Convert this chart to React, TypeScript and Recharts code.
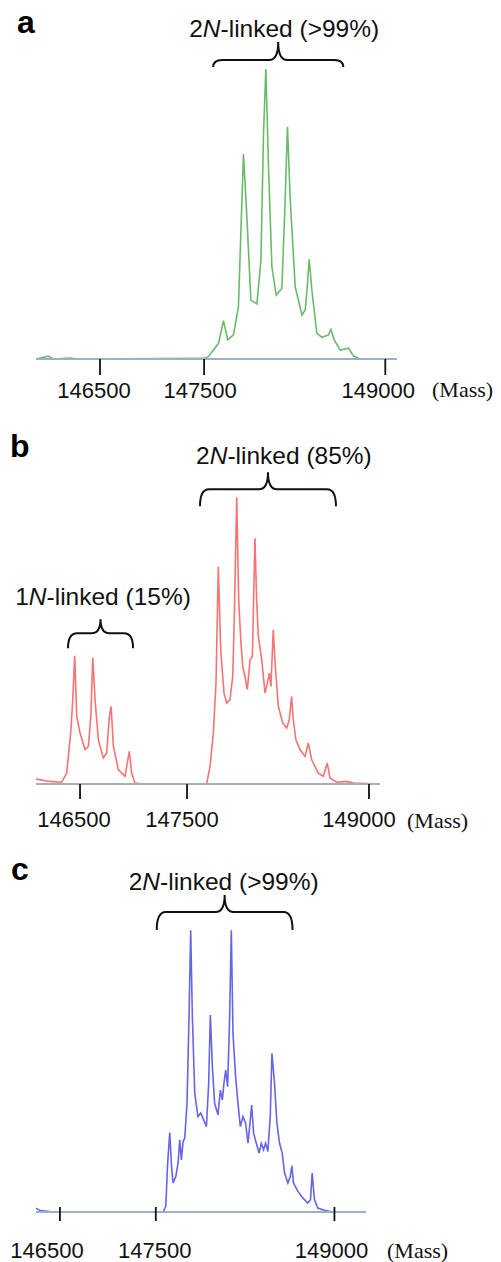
import { LineChart, Line, XAxis, YAxis, ReferenceLine, ReferenceDot } from 'recharts'

// ---- panel a: 2N-linked only ----
const MASS_A = [146108, 146210, 146251, 146390, 146445, 147494, 147536, 147577, 147619, 147660, 147696, 147743, 147784, 147804, 147826, 147854, 147887, 147937, 147970, 147992, 148011, 148033, 148061, 148097, 148144, 148171, 148190, 148213, 148254, 148310, 148337, 148356, 148370, 148392, 148433, 148475, 148530, 148550, 148577, 148627, 148696, 148737, 148793, 149097]
const INTENSITY_A = [0, 1.0, 0, 0.3, 0, 0.2, 0.8, 3.1, 5.4, 13.2, 6.6, 8.3, 18.0, 43.3, 70.7, 49, 20.3, 19, 34, 77.8, 100, 66.3, 31.8, 22, 24.4, 54.8, 80.1, 54.8, 24.9, 15.2, 16.9, 26.1, 34.4, 23.8, 8.9, 7.5, 8.3, 10.2, 6.6, 3.1, 3.7, 1.0, 0, 0]
const TICKS_A = [146638, 147500, 149000]

// ---- panel b: 1N + 2N ----
const MASS_B = [146255, 146371, 146467, 146508, 146541, 146558, 146574, 146591, 146618, 146659, 146687, 146707, 146723, 146742, 146769, 146810, 146838, 146860, 146874, 146893, 146934, 146989, 147024, 147044, 147071, 147140, 147662, 147690, 147717, 147739, 147758, 147778, 147805, 147827, 147854, 147877, 147890, 147910, 147926, 147943, 147959, 147978, 147997, 148020, 148039, 148060, 148074, 148088, 148116, 148143, 148162, 148179, 148192, 148211, 148228, 148253, 148289, 148322, 148343, 148362, 148376, 148398, 148431, 148473, 148500, 148528, 148582, 148624, 148656, 148679, 148734, 148816, 148871, 149091]
const INTENSITY_B = [1.7, 0.9, 0.6, 3.8, 17.8, 29.4, 44.7, 23.6, 17.8, 12, 13.1, 23.6, 44.1, 29.4, 15.4, 9.1, 10.8, 23.6, 27.1, 13.1, 5, 2.7, 11.4, 3.8, 0.3, 0, 0, 6.2, 17.8, 35.2, 75.8, 46.8, 31.7, 28.2, 29.4, 37.5, 58.4, 100, 64.2, 50.3, 41, 37.5, 32.9, 43.3, 44.5, 85.7, 64.2, 51.5, 43.3, 31.7, 35.2, 38.7, 34, 53.8, 41, 27.1, 21.3, 19.5, 22.4, 30.5, 22.4, 15.4, 12, 9.6, 14.3, 8.5, 3.8, 2.7, 7.3, 2.1, 0.6, 0.9, 0.3, 0]
const TICKS_B = [146618, 147500, 149000]

// ---- panel c: 2N-linked only ----
const MASS_C = [146494, 146528, 146612, 146696, 147561, 147584, 147598, 147617, 147632, 147645, 147668, 147687, 147701, 147715, 147729, 147743, 147762, 147779, 147793, 147807, 147827, 147854, 147877, 147902, 147925, 147944, 147958, 147975, 147994, 148022, 148042, 148059, 148072, 148087, 148103, 148120, 148134, 148148, 148170, 148190, 148210, 148232, 148254, 148274, 148288, 148305, 148321, 148344, 148367, 148386, 148405, 148422, 148441, 148461, 148475, 148497, 148517, 148539, 148562, 148581, 148609, 148629, 148643, 148656, 148693, 148734, 148776, 148799, 148813, 148832, 148860, 148916, 148986, 149265]
const INTENSITY_C = [1.4, 0.5, 0.2, 0, 0, 2, 16.2, 28.2, 16.2, 10.3, 12.6, 17.4, 25.6, 18.5, 25, 26.2, 38.6, 69.3, 100, 69.3, 42.1, 33.9, 35.1, 32.7, 30.3, 45.7, 69.9, 51.6, 38.6, 34.5, 43.3, 39.8, 45.7, 50.4, 44.5, 69.3, 100, 63.5, 48.1, 38.6, 30.3, 33.9, 31.5, 24.4, 30.3, 38, 28, 24.4, 20.9, 24.4, 22.1, 24.4, 21.5, 33.9, 56.3, 45.7, 31.5, 24.4, 20.9, 13.8, 10.3, 12.6, 16.4, 10.3, 7.3, 5, 3.2, 4.4, 13.8, 4.4, 1.4, 0.6, 0, 0]
const TICKS_C = [146695, 147500, 149000]

const TICK_LABELS = ['146500', '147500', '149000']

// brace annotations: [from mass, to mass, bar intensity], title [mass, intensity], title parts
const BRACES_A = [{ from: 147575, to: 148652, at: 103.1, titleAt: [148163, 111], pre: '2', ital: 'N', post: '-linked (>99%)' }]
const BRACES_B = [
  { from: 147607, to: 148728, at: 102.8, titleAt: [148299, 111.8], pre: '2', ital: 'N', post: '-linked (85%)' },
  { from: 146519, to: 147055, at: 52.6, titleAt: [146808, 62.4], pre: '1', ital: 'N', post: '-linked (15%)' },
]
const BRACES_C = [{ from: 147508, to: 148648, at: 106.5, titleAt: [148070, 114.2], pre: '2', ital: 'N', post: '-linked (>99%)' }]

const SANS = '"Liberation Sans", Arial, Helvetica, sans-serif'
const SERIF = '"Liberation Serif", "Times New Roman", serif'

const panels = [
  {
    key: 'a', letter: 'a', mass: MASS_A, intensity: INTENSITY_A, ticks: TICKS_A, braces: BRACES_A,
    domain: [146108, 149097], color: '#4fae4f',
    top: 0, height: 410, margin: { top: 11, right: 104, bottom: 11, left: 36 },
    braceSize: [[18, 7]], labelDx: [-6, -4, -7], labelDy: 39, tickFrom: 0, tickTo: 16,
    letterPos: [17, 33], massPos: [432, 397],
  },
  {
    key: 'b', letter: 'b', mass: MASS_B, intensity: INTENSITY_B, ticks: TICKS_B, braces: BRACES_B,
    domain: [146255, 149091], color: '#f45a5a',
    top: 400, height: 440, margin: { top: 40, right: 121, bottom: 16, left: 36 },
    braceSize: [[17, 17], [14, 15]], labelDx: [-6, -5, -10], labelDy: 43, tickFrom: 0, tickTo: 15,
    letterPos: [10, 457], massPos: [407, 828],
  },
  {
    key: 'c', letter: 'c', mass: MASS_C, intensity: INTENSITY_C, ticks: TICKS_C, braces: BRACES_C,
    domain: [146494, 149265], color: '#4a4ae6',
    top: 850, height: 412, margin: { top: 24, right: 135, bottom: 10, left: 36 },
    braceSize: [[17, 18]], labelDx: [-13, -1, -3], labelDy: 46, tickFrom: -5, tickTo: 9,
    letterPos: [11, 880], massPos: [387, 1258],
  },
]

function bracePath(x1: number, x2: number, y: number, tip: number, arm: number) {
  const xc = (x1 + x2) / 2
  const r = 9
  return [
    `M${x1},${y + arm}`,
    `Q${x1},${y} ${x1 + r},${y}`,
    `L${xc - r},${y}`,
    `Q${xc},${y} ${xc},${y - tip}`,
    `Q${xc},${y} ${xc + r},${y}`,
    `L${x2 - r},${y}`,
    `Q${x2},${y} ${x2},${y + arm}`,
  ].join(' ')
}

function Panel({ p }: { p: (typeof panels)[number] }) {
  const data = p.mass.map((m, i) => ({ mass: m, intensity: p.intensity[i] }))
  return (
    <div style={{ position: 'absolute', left: 0, top: p.top }}>
      <LineChart width={501} height={p.height} data={data} margin={p.margin}>
        <YAxis hide type="number" domain={[0, 120]} allowDataOverflow />
        <XAxis
          type="number"
          dataKey="mass"
          domain={p.domain}
          allowDataOverflow
          ticks={p.ticks}
          interval={0}
          height={40}
          tickSize={0}
          tickMargin={0}
          tickLine={false}
          axisLine={{ stroke: '#9db1c2', strokeWidth: 2 }}
          tick={(t: any) => (
            <g>
              <line x1={t.x} x2={t.x} y1={t.y + p.tickFrom} y2={t.y + p.tickTo} stroke="#111" strokeWidth={1.8} />
              <text
                x={t.x + p.labelDx[t.index]}
                y={t.y + p.labelDy}
                textAnchor="middle"
                fontFamily={SANS}
                fontSize={22}
                fill="#111"
              >
                {TICK_LABELS[t.index]}
              </text>
            </g>
          )}
        />
        <Line
          type="linear"
          dataKey="intensity"
          stroke={p.color}
          strokeWidth={1.6}
          strokeOpacity={0.85}
          dot={false}
          isAnimationActive={false}
        />
        {p.braces.map((b, i) => (
          <ReferenceLine
            key={`brace-${i}`}
            segment={[{ x: b.from, y: b.at }, { x: b.to, y: b.at }]}
            ifOverflow="visible"
            shape={(s: any) => (
              <path
                d={bracePath(s.x1, s.x2, s.y1, p.braceSize[i][0], p.braceSize[i][1])}
                fill="none"
                stroke="#111"
                strokeWidth={2}
              />
            )}
          />
        ))}
        {p.braces.map((b, i) => (
          <ReferenceDot
            key={`title-${i}`}
            x={b.titleAt[0]}
            y={b.titleAt[1]}
            ifOverflow="visible"
            shape={(s: any) => (
              <text x={s.cx} y={s.cy} textAnchor="middle" fontFamily={SANS} fontSize={24.5} fill="#111">
                {b.pre}
                <tspan fontStyle="italic">{b.ital}</tspan>
                {b.post}
              </text>
            )}
          />
        ))}
      </LineChart>
    </div>
  )
}

export default function App() {
  return (
    <div style={{ position: 'absolute', left: 0, top: 0, width: 501, height: 1262, background: '#fff' }}>
      {panels.map((p) => (
        <Panel key={p.key} p={p} />
      ))}
      <svg width={501} height={1262} style={{ position: 'absolute', left: 0, top: 0, pointerEvents: 'none' }}>
        {panels.map((p) => (
          <g key={p.key}>
            <text x={p.letterPos[0]} y={p.letterPos[1]} fontFamily={SANS} fontWeight="bold" fontSize={32} fill="#000">
              {p.letter}
            </text>
            <text x={p.massPos[0]} y={p.massPos[1]} fontFamily={SERIF} fontSize={22} fill="#111">
              (Mass)
            </text>
          </g>
        ))}
      </svg>
    </div>
  )
}
